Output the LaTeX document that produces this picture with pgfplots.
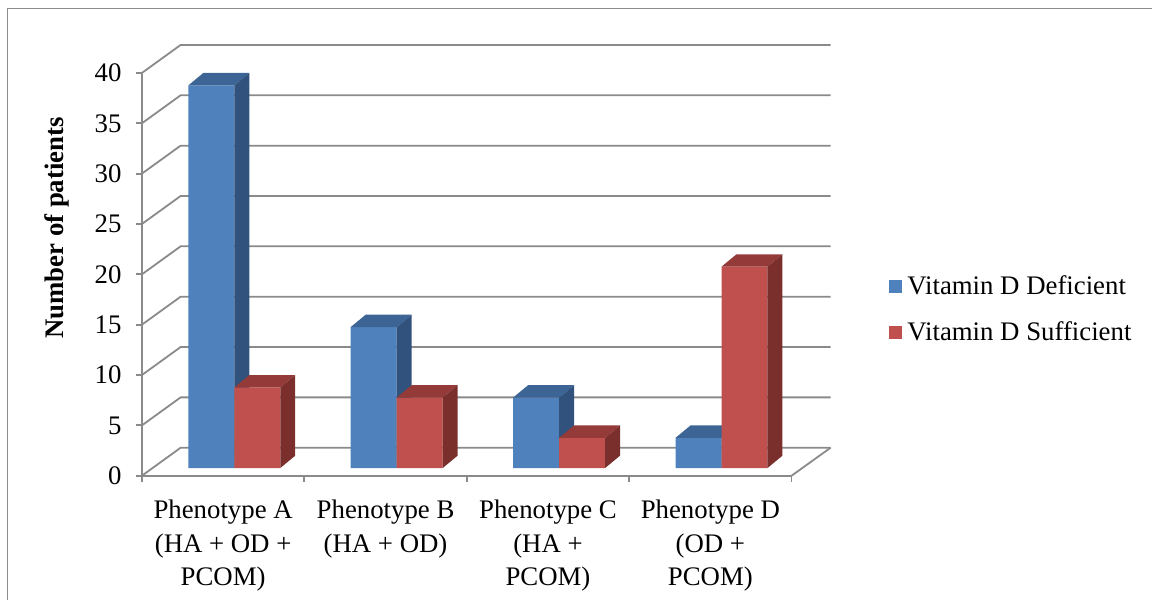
\documentclass[border=0pt]{standalone}
\usepackage{fontspec}
\setmainfont{Liberation Serif}
\usepackage{pgfplots}
\pgfplotsset{compat=1.18}
\definecolor{vdblue}{HTML}{4F81BD}
\definecolor{vdbluetop}{HTML}{3C6494}
\definecolor{vdblueside}{HTML}{30527D}
\definecolor{vdred}{HTML}{C0504D}
\definecolor{vdredtop}{HTML}{943B39}
\definecolor{vdredside}{HTML}{7A2F2D}
\definecolor{gridgray}{HTML}{8A8A8A}
\definecolor{framegray}{HTML}{8C8C8C}
\newcommand{\chartfont}{\fontsize{13.4}{16.75}\selectfont}
\begin{document}
\begin{tikzpicture}
\begin{axis}[
  x=0.5pt, y=5.0375pt,
  xmin=142, xmax=792, ymin=-0.764, ymax=39.236,
  clip=false,
  axis lines=left,
  axis line style={-, draw=gridgray, line width=0.9pt},
  tick align=outside,
  major tick length=3pt,
  tick style={draw=gridgray, line width=0.9pt},
  xtick={142,304.5,467,629.5,792},
  x tick label as interval,
  xticklabels={{Phenotype A\\(HA + OD +\\PCOM)},{Phenotype B\\(HA + OD)},{Phenotype C\\(HA +\\PCOM)},{Phenotype D\\(OD +\\PCOM)}},
  xticklabel style={align=center, font=\chartfont, anchor=north, inner sep=0pt, yshift=-9pt},
  ytick={-0.764,4.236,9.236,14.236,19.236,24.236,29.236,34.236,39.236},
  yticklabels={0,5,10,15,20,25,30,35,40},
  yticklabel style={font=\chartfont, anchor=east, inner sep=0pt, xshift=-7pt},
  ylabel={Number of patients},
  ylabel style={at={(axis description cs:-0.1308,0.615)}, anchor=center, font=\bfseries\chartfont},
  legend style={at={(axis description cs:1.149,0.413)}, anchor=west, draw=none, fill=none,
    font=\chartfont, inner sep=0pt, row sep=12pt, column sep=2.5pt,
    nodes={inner sep=0pt}},
  legend cell align=left,
]
% back wall and left wall gridlines
\addplot[gridgray, line width=0.9pt, forget plot] coordinates {(142,-0.764) (180.7,2.015) (831,2.015)};
\addplot[gridgray, line width=0.9pt, forget plot] coordinates {(142,4.236) (180.7,7.015) (831,7.015)};
\addplot[gridgray, line width=0.9pt, forget plot] coordinates {(142,9.236) (180.7,12.015) (831,12.015)};
\addplot[gridgray, line width=0.9pt, forget plot] coordinates {(142,14.236) (180.7,17.015) (831,17.015)};
\addplot[gridgray, line width=0.9pt, forget plot] coordinates {(142,19.236) (180.7,22.015) (831,22.015)};
\addplot[gridgray, line width=0.9pt, forget plot] coordinates {(142,24.236) (180.7,27.015) (831,27.015)};
\addplot[gridgray, line width=0.9pt, forget plot] coordinates {(142,29.236) (180.7,32.015) (831,32.015)};
\addplot[gridgray, line width=0.9pt, forget plot] coordinates {(142,34.236) (180.7,37.015) (831,37.015)};
\addplot[gridgray, line width=0.9pt, forget plot] coordinates {(142,39.236) (180.7,42.015) (831,42.015)};
\addplot[gridgray, line width=0.9pt, forget plot] coordinates {(792,-0.764) (831,2.015)};
% Vitamin D Deficient: front faces
\addplot[ybar, bar width=46, bar shift=0pt, fill=vdblue, draw=none,
  legend image code/.code={\fill[vdblue] (0pt,-3.4pt) rectangle (6.8pt,3.4pt);}]
  coordinates {(211.4,38) (373.9,14) (536.4,7) (698.9,3)};
\addlegendentry{Vitamin D Deficient}
% top faces
\addplot[fill=vdbluetop, draw=none, forget plot] coordinates {(188.4,38) (234.4,38) (249.4,39.23) (203.4,39.23)} --cycle;
\addplot[fill=vdbluetop, draw=none, forget plot] coordinates {(350.9,14) (396.9,14) (411.9,15.23) (365.9,15.23)} --cycle;
\addplot[fill=vdbluetop, draw=none, forget plot] coordinates {(513.4,7) (559.4,7) (574.4,8.23) (528.4,8.23)} --cycle;
\addplot[fill=vdbluetop, draw=none, forget plot] coordinates {(675.9,3) (721.9,3) (736.9,4.23) (690.9,4.23)} --cycle;
% side faces
\addplot[fill=vdblueside, draw=none, forget plot] coordinates {(234.4,0) (249.4,1.23) (249.4,39.23) (234.4,38)} --cycle;
\addplot[fill=vdblueside, draw=none, forget plot] coordinates {(396.9,0) (411.9,1.23) (411.9,15.23) (396.9,14)} --cycle;
\addplot[fill=vdblueside, draw=none, forget plot] coordinates {(559.4,0) (574.4,1.23) (574.4,8.23) (559.4,7)} --cycle;
\addplot[fill=vdblueside, draw=none, forget plot] coordinates {(721.9,0) (736.9,1.23) (736.9,4.23) (721.9,3)} --cycle;
% Vitamin D Sufficient: front faces
\addplot[ybar, bar width=46, bar shift=0pt, fill=vdred, draw=none,
  legend image code/.code={\fill[vdred] (0pt,-3.4pt) rectangle (6.8pt,3.4pt);}]
  coordinates {(257.4,8) (419.9,7) (582.4,3) (744.9,20)};
\addlegendentry{Vitamin D Sufficient}
% top faces
\addplot[fill=vdredtop, draw=none, forget plot] coordinates {(234.4,8) (280.4,8) (295.4,9.23) (249.4,9.23)} --cycle;
\addplot[fill=vdredtop, draw=none, forget plot] coordinates {(396.9,7) (442.9,7) (457.9,8.23) (411.9,8.23)} --cycle;
\addplot[fill=vdredtop, draw=none, forget plot] coordinates {(559.4,3) (605.4,3) (620.4,4.23) (574.4,4.23)} --cycle;
\addplot[fill=vdredtop, draw=none, forget plot] coordinates {(721.9,20) (767.9,20) (782.9,21.23) (736.9,21.23)} --cycle;
% side faces
\addplot[fill=vdredside, draw=none, forget plot] coordinates {(280.4,0) (295.4,1.23) (295.4,9.23) (280.4,8)} --cycle;
\addplot[fill=vdredside, draw=none, forget plot] coordinates {(442.9,0) (457.9,1.23) (457.9,8.23) (442.9,7)} --cycle;
\addplot[fill=vdredside, draw=none, forget plot] coordinates {(605.4,0) (620.4,1.23) (620.4,4.23) (605.4,3)} --cycle;
\addplot[fill=vdredside, draw=none, forget plot] coordinates {(767.9,0) (782.9,1.23) (782.9,21.23) (767.9,20)} --cycle;
% chart frame and picture extent
\draw[framegray, line width=0.6pt] (axis cs:7.3,-13.07) -- (axis cs:7.3,45.66) -- (axis cs:1153,45.66);
\path (axis cs:0,-13.07) rectangle (axis cs:1153,46.48);
\end{axis}
\end{tikzpicture}
\end{document}
